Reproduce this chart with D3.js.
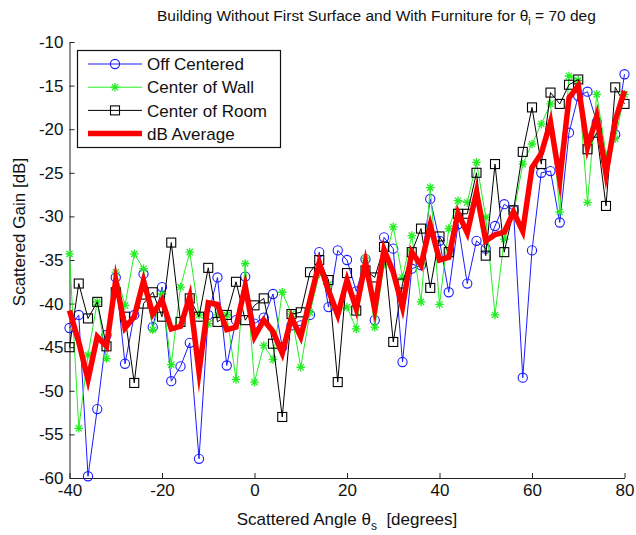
<!DOCTYPE html>
<html>
<head>
<meta charset="utf-8">
<script src="https://cdn.jsdelivr.net/npm/d3@7"></script>
<style>
  html, body { margin: 0; padding: 0; background: #fff; }
  svg { display: block; font-family: "Liberation Sans", Arial, sans-serif; }
</style>
</head>
<body>
<svg id="chart" width="636" height="535"></svg>
<script>
// Scattered angle (degrees)
const angles = [-40,-38,-36,-34,-32,-30,-28,-26,-24,-22,-20,-18,-16,-14,-12,-10,-8,-6,-4,-2,
  0,2,4,6,8,10,12,14,16,18,20,22,24,26,28,30,32,34,36,38,40,42,44,46,48,50,52,54,56,58,
  60,62,64,66,68,70,72,74,76,78,80];

const offCentered = [-42.8,-41.3,-59.8,-52.1,-43.6,-37.0,-46.9,-41.3,-36.6,-42.7,-38.1,-48.9,-47.2,-44.5,-57.8,-41.3,-37.0,-47.1,-41.9,-36.9,
  -42.3,-41.6,-38.9,-45.0,-42.5,-42.5,-41.3,-34.1,-40.4,-33.9,-35.0,-38.6,-34.9,-41.9,-32.4,-33.7,-46.7,-36.0,-35.6,-28.0,
  -32.8,-38.7,-30.9,-37.7,-32.8,-33.7,-31.1,-28.6,-29.3,-48.5,-33.9,-25.0,-24.8,-30.7,-20.4,-16.2,-15.7,-19.2,-23.6,-20.6,-13.7];

const centerOfWall = [-34.3,-54.3,-45.9,-39.8,-46.3,-36.4,-40.2,-34.3,-36.0,-43.0,-38.9,-47.0,-38.1,-34.1,-41.3,-42.3,-41.3,-41.3,-48.7,-35.4,
  -49.0,-44.8,-46.4,-38.7,-41.2,-47.3,-41.0,-36.6,-37.8,-40.8,-40.4,-42.9,-34.8,-42.7,-35.5,-31.2,-37.0,-32.2,-39.8,-26.7,
  -40.1,-31.4,-28.2,-28.4,-23.8,-30.1,-41.3,-32.6,-29.8,-24.0,-21.7,-19.4,-17.1,-29.5,-13.9,-14.4,-28.4,-16.0,-22.9,-21.1,-16.0];

const centerOfRoom = [-45.0,-37.7,-41.7,-39.8,-44.9,-38.7,-41.5,-49.1,-40.0,-38.7,-41.5,-33.0,-42.1,-39.4,-41.5,-35.9,-42.1,-41.3,-37.5,-41.9,
  -40.2,-39.4,-44.6,-53.0,-41.2,-41.0,-36.4,-35.0,-37.3,-49.0,-36.5,-40.8,-36.2,-37.0,-33.5,-44.4,-37.7,-34.1,-31.4,-38.2,
  -32.3,-34.1,-29.7,-29.7,-25.0,-34.5,-24.0,-34.1,-29.3,-22.6,-17.5,-24.0,-15.8,-17.1,-14.9,-14.3,-22.3,-20.4,-28.8,-15.2,-17.1];

const dBAverage = [-40.8,-44.4,-48.7,-43.8,-44.9,-37.3,-42.8,-41.5,-37.4,-41.2,-39.6,-42.9,-42.6,-39.2,-47.8,-39.9,-40.1,-43.0,-42.7,-38.0,
  -43.8,-41.9,-43.2,-45.7,-41.6,-43.8,-39.6,-35.3,-38.5,-41.3,-37.3,-40.6,-35.3,-40.6,-33.8,-36.4,-40.4,-34.1,-35.6,-31.0,
  -35.0,-34.7,-29.6,-31.9,-27.2,-32.8,-32.1,-31.8,-29.5,-31.7,-24.4,-22.8,-19.2,-25.8,-16.4,-15.0,-22.1,-18.5,-25.1,-19.0,-15.6];

const xTicks = [-40,-20,0,20,40,60,80];
const yTicks = [-60,-55,-50,-45,-40,-35,-30,-25,-20,-15,-10];
const seriesNames = ["Off Centered","Center of Wall","Center of Room","dB Average"];

const svg = d3.select("#chart");
const x = d3.scaleLinear().domain([-40, 80]).range([69.5, 624.5]);
const y = d3.scaleLinear().domain([-60, -10]).range([478, 42]);

const series = [
  {name: seriesNames[0], values: offCentered, color: "#1a1aff", width: 1, marker: "circle"},
  {name: seriesNames[1], values: centerOfWall, color: "#22ee22", width: 1, marker: "star"},
  {name: seriesNames[2], values: centerOfRoom, color: "#000000", width: 1, marker: "square"},
  {name: seriesNames[3], values: dBAverage, color: "#ff0000", width: 5.5, marker: null}
];

function drawMarker(g, type, cx, cy, color) {
  if (type === "circle") {
    g.append("circle").attr("cx", cx).attr("cy", cy).attr("r", 4.6)
      .attr("fill", "none").attr("stroke", color).attr("stroke-width", 1.1);
  } else if (type === "square") {
    g.append("rect").attr("x", cx - 4.5).attr("y", cy - 4.5).attr("width", 9).attr("height", 9)
      .attr("fill", "none").attr("stroke", color).attr("stroke-width", 1.1);
  } else if (type === "star") {
    const s = 4.3, d = s * 0.72;
    g.append("path")
      .attr("d", `M${cx - s},${cy}L${cx + s},${cy}M${cx},${cy - s}L${cx},${cy + s}` +
                 `M${cx - d},${cy - d}L${cx + d},${cy + d}M${cx - d},${cy + d}L${cx + d},${cy - d}`)
      .attr("stroke", color).attr("stroke-width", 1.3).attr("fill", "none");
  }
}

// Axes (left and bottom only, ticks inward)
const fmt = d => String(d);
const xAxis = d3.axisBottom(x).tickValues(xTicks).tickFormat(fmt).tickSizeInner(-5).tickSizeOuter(0).tickPadding(8);
const yAxis = d3.axisLeft(y).tickValues(yTicks).tickFormat(fmt).tickSizeInner(-5).tickSizeOuter(0).tickPadding(8);

const gx = svg.append("g").attr("transform", "translate(0,478)").call(xAxis);
const gy = svg.append("g").attr("transform", "translate(69.5,0)").call(yAxis);
[gx, gy].forEach(g => {
  g.select(".domain").attr("stroke", "#222").attr("stroke-width", 1);
  g.selectAll(".tick line").attr("stroke", "#222");
  g.selectAll(".tick text").attr("fill", "#111").style("font-size", "17px")
    .style("font-family", '"Liberation Sans", Arial, sans-serif');
});
gx.selectAll(".tick text").attr("dy", "0.71em").attr("y", 6);
gy.selectAll(".tick text").attr("x", -6);

// Lines
const line = d3.line().x((d, i) => x(angles[i])).y(d => y(d));
series.forEach(s => {
  const g = svg.append("g");
  g.append("path").datum(s.values).attr("d", line)
    .attr("fill", "none").attr("stroke", s.color).attr("stroke-width", s.width)
    .attr("stroke-linejoin", s.marker ? "round" : "miter").attr("stroke-miterlimit", 10);
  if (s.marker) {
    s.values.forEach((v, i) => drawMarker(g, s.marker, x(angles[i]), y(v), s.color));
  }
});

// Legend
const lg = svg.append("g");
lg.append("rect").attr("x", 77.5).attr("y", 50.5).attr("width", 203).attr("height", 97)
  .attr("fill", "#fff").attr("stroke", "#111").attr("stroke-width", 1.2);
series.forEach((s, i) => {
  const cy = 64 + i * 23.2;
  lg.append("line").attr("x1", 88).attr("x2", 142).attr("y1", cy).attr("y2", cy)
    .attr("stroke", s.color).attr("stroke-width", s.width);
  if (s.marker) drawMarker(lg, s.marker, 115, cy, s.color);
  lg.append("text").attr("x", 147).attr("y", cy).attr("dy", "0.36em")
    .style("font-size", "17px").attr("fill", "#111").text(s.name);
});

// Title
const title = svg.append("text").attr("x", 157).attr("y", 21)
  .style("font-size", "15.5px").attr("fill", "#111");
title.append("tspan").text("Building Without First Surface and With Furniture for ");
title.append("tspan").text("θ");
title.append("tspan").attr("dy", 4).style("font-size", "11px").text("i");
title.append("tspan").attr("dy", -4).text(" = 70 deg");

// X label
const xl = svg.append("text").attr("x", 347).attr("y", 525).attr("text-anchor", "middle")
  .style("font-size", "17px").attr("fill", "#111");
xl.append("tspan").text("Scattered Angle θ");
xl.append("tspan").attr("dy", 5).style("font-size", "12px").text("s");
xl.append("tspan").attr("dy", -5).text("  [degrees]").attr("xml:space", "preserve");

// Y label
svg.append("text").attr("transform", "translate(25,232) rotate(-90)").attr("text-anchor", "middle")
  .style("font-size", "17px").attr("fill", "#111").text("Scattered Gain [dB]");
</script>
</body>
</html>
